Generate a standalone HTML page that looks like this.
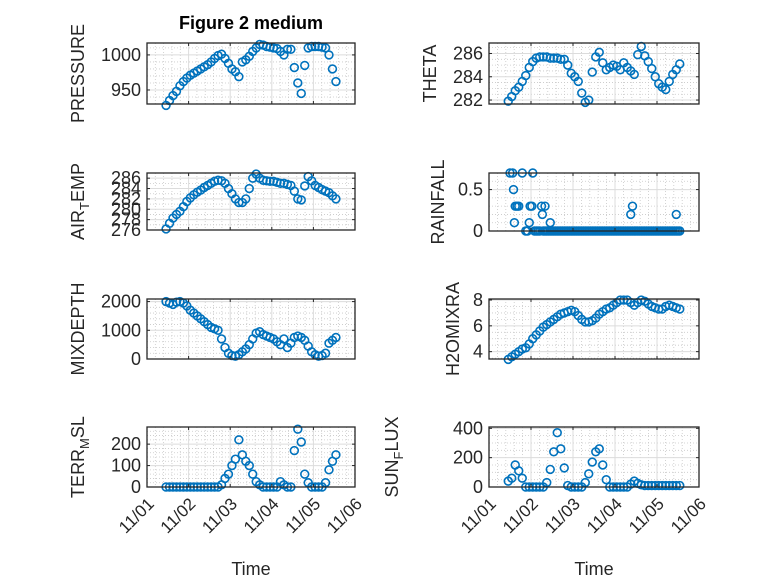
<!DOCTYPE html>
<html><head><meta charset="utf-8"><style>
body{margin:0;background:#fff;}
svg{display:block;font-family:"Liberation Sans",sans-serif;}
</style></head><body>
<svg id="fig" width="778" height="583" viewBox="0 0 778 583">
<rect width="778" height="583" fill="#fff"/>
<text x="251" y="29" text-anchor="middle" font-size="18" font-weight="bold" fill="#000">Figure 2 medium</text>
</svg>
<script>
const hours = [11,13,15,17,19,21,23,25,27,29,31,33,35,37,39,41,43,45,47,49,51,53,55,57,59,61,63,65,67,69,71,73,75,77,79,81,83,85,87,89,91,93,95,97,99,101,103,105,107,109];
const pressure = [928,935,942,948,956,962,967,971,974,977,980,983,986,990,995,999,1001,995,988,980,976,969,990,993,998,1005,1010,1015,1014,1012,1011,1010,1009,1005,1000,1008,1008,982,960,945,985,1010,1012,1012,1012,1011,1010,1000,980,962];
const airTemp = [276.2,277.3,278.3,279.0,279.6,280.5,281.5,282.2,282.8,283.3,283.7,284.2,284.6,285.0,285.4,285.6,285.5,285.0,284.0,283.0,282.0,281.3,281.3,282.0,284.0,286.0,286.8,286.0,285.6,285.5,285.4,285.4,285.2,285.0,285.0,284.8,284.6,283.5,282.0,281.8,284.5,286.3,285.5,284.6,284.2,283.8,283.5,283.2,282.6,282.0];
const mixDepth = [2000,1950,1900,1980,2000,1950,1850,1700,1600,1500,1400,1300,1200,1100,1050,1000,700,400,200,120,100,150,250,350,500,700,900,950,850,800,750,700,600,500,700,400,550,750,800,750,650,450,250,150,100,120,200,550,650,750];
const terrMsl = [0,0,0,0,0,0,0,0,0,0,0,0,0,0,0,0,10,40,60,100,130,220,150,120,100,60,25,10,0,0,0,0,0,25,10,0,0,170,270,210,60,20,0,0,0,0,20,80,120,150];
const theta = [281.9,282.3,282.8,283.1,283.6,284.1,284.8,285.3,285.6,285.7,285.7,285.7,285.6,285.6,285.6,285.5,285.5,285.0,284.3,284.0,283.6,282.6,281.8,282.0,284.4,285.7,286.1,285.2,284.6,284.8,285.0,284.9,284.6,285.2,284.8,284.5,284.2,285.9,286.6,285.8,285.3,284.7,284.0,283.4,283.1,282.9,283.6,284.2,284.6,285.1];
const rainHours = [12,13.5,19,25,14,15,16,17,23.5,24.5,30,32,14.5,23,35,30.5,81,82,107,21,22,26,27,28,29,31,32,33,34,35,36,37,38,39,40,41,42,43,44,45,46,47,48,49,50,51,52,53,54,55,56,57,58,59,60,61,62,63,64,65,66,67,68,69,70,71,72,73,74,75,76,77,78,79,80,81,82,83,84,85,86,87,88,89,90,91,92,93,94,95,96,97,98,99,100,101,102,103,104,105,106,107,108,109];
const rainfall = [0.7,0.7,0.7,0.7,0.5,0.3,0.3,0.3,0.3,0.3,0.3,0.3,0.1,0.1,0.1,0.2,0.2,0.3,0.2,0,0,0,0,0,0,0,0,0,0,0,0,0,0,0,0,0,0,0,0,0,0,0,0,0,0,0,0,0,0,0,0,0,0,0,0,0,0,0,0,0,0,0,0,0,0,0,0,0,0,0,0,0,0,0,0,0,0,0,0,0,0,0,0,0,0,0,0,0,0,0,0,0,0,0,0,0,0,0,0,0,0,0,0,0];
const h2oMix = [3.4,3.6,3.8,4.0,4.2,4.3,4.6,5.0,5.3,5.6,5.9,6.1,6.3,6.5,6.7,6.9,7.0,7.1,7.2,7.1,6.8,6.5,6.3,6.3,6.4,6.6,6.9,7.1,7.3,7.4,7.6,7.8,8.0,8.0,8.0,7.8,7.6,7.8,8.0,7.9,7.7,7.5,7.4,7.3,7.3,7.5,7.6,7.5,7.4,7.3];
const sunFlux = [40,60,150,110,60,0,0,0,0,0,0,30,120,240,370,260,130,10,0,0,0,0,30,90,170,240,260,150,50,0,0,0,0,0,0,20,40,25,15,10,10,10,10,10,10,10,10,10,10,10];
const xTickLabels = ["11/01","11/02","11/03","11/04","11/05","11/06"];

const NS="http://www.w3.org/2000/svg";
const svg=document.getElementById('fig');
function mk(tag,attrs,parent){const e=document.createElementNS(NS,tag);for(const k in attrs)e.setAttribute(k,attrs[k]);(parent||svg).appendChild(e);return e;}

const panels=[
 {name:'pressure',x0:147,x1:355,y0:43,y1:104,min:930,max:1017,ticks:[950,1000],minor:10,t:hours,v:pressure,label:['PRESSURE'],lx:84},
 {name:'air-temp',x0:147,x1:355,y0:173,y1:230,min:276,max:287,ticks:[276,278,280,282,284,286],minor:1,t:hours,v:airTemp,label:['AIR','T','EMP'],lx:84},
 {name:'mixdepth',x0:147,x1:355,y0:299,y1:359,min:0,max:2090,ticks:[0,1000,2000],minor:200,t:hours,v:mixDepth,label:['MIXDEPTH'],lx:84},
 {name:'terr-msl',x0:147,x1:355,y0:427,y1:487,min:0,max:280,ticks:[0,100,200],minor:20,t:hours,v:terrMsl,label:['TERR','M','SL'],lx:84,xt:true},
 {name:'theta',x0:489,x1:699,y0:43,y1:104,min:281.66,max:286.9,ticks:[282,284,286],minor:0.5,t:hours,v:theta,label:['THETA'],lx:436},
 {name:'rainfall',x0:489,x1:699,y0:173,y1:231,min:0,max:0.7,ticks:[0,0.5],minor:0.1,t:rainHours,v:rainfall,label:['RAINFALL'],lx:444},
 {name:'h2omixra',x0:489,x1:699,y0:299,y1:359,min:3.43,max:8.08,ticks:[4,6,8],minor:0.5,t:hours,v:h2oMix,label:['H2OMIXRA'],lx:459},
 {name:'sun-flux',x0:489,x1:699,y0:427,y1:487,min:0,max:409,ticks:[0,200,400],minor:50,t:hours,v:sunFlux,label:['SUN','F','LUX'],lx:398,xt:true}
];

panels.forEach(p=>{
 const g=mk('g',{});
 
 
 const xs=d=>p.x0+(d/5)*(p.x1-p.x0);
 const ys=v=>p.y1-(v-p.min)/(p.max-p.min)*(p.y1-p.y0);
 for(let i=1;i<25;i++){ if(i%5===0)continue; const x=xs(i/5);
  mk('line',{x1:x,x2:x,y1:p.y0,y2:p.y1,stroke:'#c8c8c8','stroke-width':0.8,'stroke-dasharray':'1 2'},g);}
 const start=Math.ceil(p.min/p.minor);
 for(let k=start;k*p.minor<=p.max;k++){const v=k*p.minor; if(p.ticks.some(t=>Math.abs(t-v)<1e-9))continue; const y=ys(v);
  mk('line',{x1:p.x0,x2:p.x1,y1:y,y2:y,stroke:'#c8c8c8','stroke-width':0.8,'stroke-dasharray':'1 2'},g);}
 for(let i=1;i<5;i++){const x=xs(i);mk('line',{x1:x,x2:x,y1:p.y0,y2:p.y1,stroke:'#dcdcdc','stroke-width':1},g);}
 p.ticks.forEach(t=>{const y=ys(t);mk('line',{x1:p.x0,x2:p.x1,y1:y,y2:y,stroke:'#dcdcdc','stroke-width':1},g);});
 p.v.forEach((v,i)=>{
  const c=mk('circle',{cx:xs(p.t[i]/24),cy:ys(v),r:3.9,fill:'none',stroke:'#0072BD','stroke-width':1.6},g);
  
  
 });
 const b=mk('rect',{x:p.x0,y:p.y0,width:p.x1-p.x0,height:p.y1-p.y0,fill:'none',stroke:'#262626','stroke-width':1.3},g);
 
 
 for(let i=0;i<=5;i++){const x=xs(i);
  mk('line',{x1:x,x2:x,y1:p.y1,y2:p.y1-3,stroke:'#262626'},g);
  mk('line',{x1:x,x2:x,y1:p.y0,y2:p.y0+3,stroke:'#262626'},g);
  if(p.xt){const tx=mk('text',{transform:`translate(${x+8},${p.y1+18}) rotate(-45)`,'text-anchor':'end','font-size':17,fill:'#262626'},g);
   tx.textContent=xTickLabels[i];
   
   }
 }
 p.ticks.forEach(t=>{const y=ys(t);
  mk('line',{x1:p.x0,x2:p.x0+3,y1:y,y2:y,stroke:'#262626'},g);
  mk('line',{x1:p.x1,x2:p.x1-3,y1:y,y2:y,stroke:'#262626'},g);
  const tx=mk('text',{x:p.x0-6,y:y+6,'text-anchor':'end','font-size':18,fill:'#262626'},g);
  tx.textContent=String(t);
  
  
 });
 const cy=(p.y0+p.y1)/2;
 const lab=mk('text',{transform:`translate(${p.lx},${cy}) rotate(-90)`,'text-anchor':'middle','font-size':18,fill:'#262626'},g);
 
 
 p.label.forEach((s,j)=>{const ts=mk('tspan',{},lab);ts.textContent=s;
  if(j===1){ts.setAttribute('font-size','13');ts.setAttribute('dy','5');}
  if(j===2){ts.setAttribute('dy','-5');}
 });
 if(p.xt){const tt=mk('text',{x:(p.x0+p.x1)/2,y:575,'text-anchor':'middle','font-size':18,fill:'#262626'},g);
  tt.textContent='Time';
  
  }
});
</script>
</body></html>
